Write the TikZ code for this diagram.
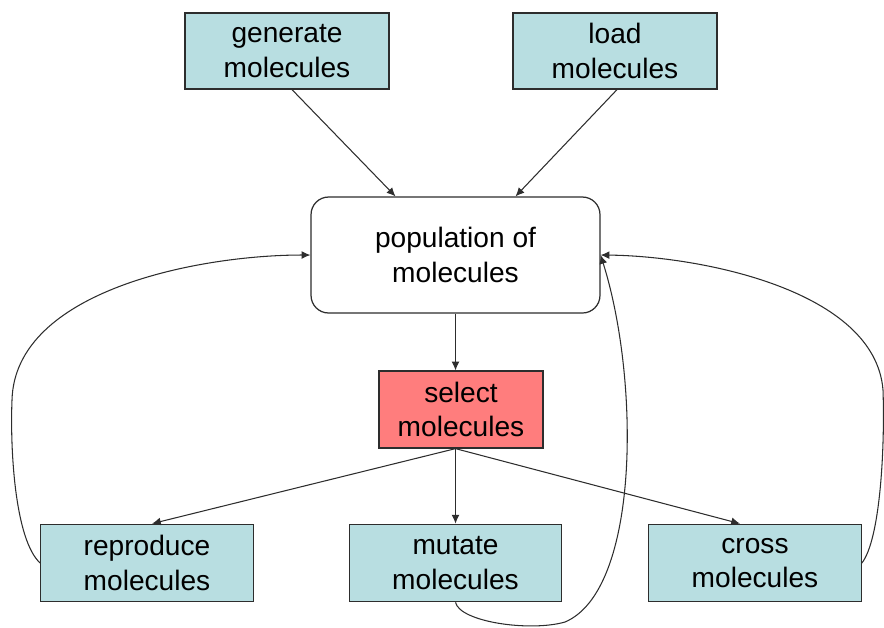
\documentclass[tikz,border=0pt]{standalone}
\usepackage{fontspec}
\setmainfont{Liberation Sans}
\usetikzlibrary{arrows.meta}
\usetikzlibrary{calc}
\definecolor{boxblue}{RGB}{184,222,225}
\definecolor{boxred}{RGB}{255,125,125}
\definecolor{edge}{RGB}{45,45,45}
\tikzset{
    opbox/.style={
        draw=edge, fill=boxblue, line width=0.7pt,
        minimum width=#1, minimum height=1.55cm, inner sep=0pt,
        align=center, font=\fontsize{16}{19.5}\selectfont
    },
    opbox/.default=4.25cm,
    link/.style={
        draw=edge, line width=0.6pt,
        -{Latex[length=5pt,width=4.5pt]}
    }
}

\begin{document}
\begin{tikzpicture}[x=0.02cm,y=-0.02cm]
		\useasboundingbox (0,0) rectangle (884,627);

		% Sources
		\node[opbox=4.08cm, minimum height=1.52cm] (gen) at (287,51) {generate\\molecules};
		\node[opbox=4.08cm, minimum height=1.52cm] (load) at (615,51) {load\\molecules};

		% Pool and selection
		\node[opbox=5.78cm, minimum height=2.32cm, fill=white, rounded corners=10pt] (pop) at (455.5,255) {population of\\molecules};
		\node[opbox=3.28cm, minimum height=1.54cm, fill=boxred] (sel) at (461,409.5) {select\\molecules};

		% Operators
		\node[opbox] (rep) at (147,563) {reproduce\\molecules};
		\node[opbox] (mut) at (455.5,563) {mutate\\molecules};
		\node[opbox] (crs) at (755,563) {cross\\molecules};

		\coordinate (selout) at (pop.south |- sel.south);

		\draw[link] ($(gen.south)+(5,0)$) -- ($(pop.north)+(-60,0)$);
		\draw[link] ($(load.south)+(2,0)$) -- ($(pop.north)+(60,0)$);
		\draw[link] (pop.south) -- (pop.south |- sel.north);
		\draw[link] (selout) -- ($(rep.north)+(5,0)$);
		\draw[link] (selout) -- (mut.north);
		\draw[link] (selout) -- ($(crs.north)+(-15,0)$);

		% Feedback into the pool
		\draw[link] (rep.west) .. controls (15,540) and (10,450) .. (12,400)
			.. controls (15,290) and (200,255) .. (pop.west);
		\draw[link] (crs.east) .. controls (880,540) and (885,450) .. (883,390)
			.. controls (875,290) and (700,256) .. (pop.east);
		\draw[link] (mut.south) .. controls (460,622) and (530,632) .. (565,622)
			.. controls (640,590) and (640,380) .. (pop.east);

	\end{tikzpicture}
\end{document}
